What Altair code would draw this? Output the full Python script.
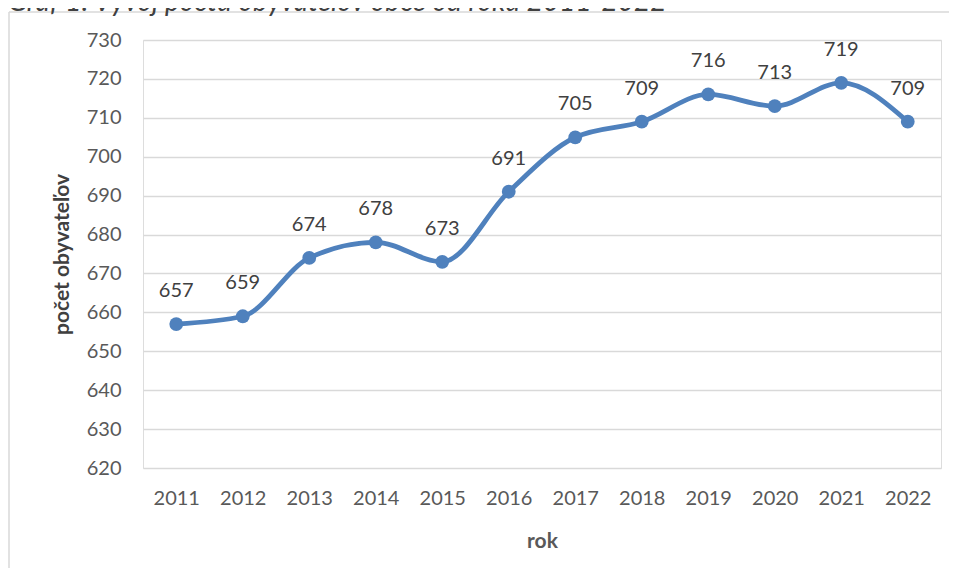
import altair as alt
import pandas as pd

years = ["2011", "2012", "2013", "2014", "2015", "2016", "2017", "2018", "2019", "2020", "2021", "2022"]
population = [657, 659, 674, 678, 673, 691, 705, 709, 716, 713, 719, 709]
y_ticks = [620, 630, 640, 650, 660, 670, 680, 690, 700, 710, 720, 730]
title_text = "Graf 1: Vývoj počtu obyvateľov obce od roku 2011-2022"

df = pd.DataFrame({"rok": years, "pocet": population})

FONT = "Lato"
BLUE = "#4F81BD"

x_enc = alt.X("rok:O", sort=years,
              scale=alt.Scale(padding=0.5),
              axis=alt.Axis(title="rok", labelAngle=0, labelFont=FONT, labelFontSize=20,
                            labelColor="#595959", labelPadding=20, ticks=False, domain=False,
                            titleFont=FONT, titleFontSize=21, titleFontWeight="bold",
                            titleColor="#595959", titlePadding=22, grid=False))
y_enc = alt.Y("pocet:Q",
              scale=alt.Scale(domain=[620, 730], nice=False, zero=False),
              axis=alt.Axis(title="počet obyvateľov", values=y_ticks, labelFont=FONT,
                            labelFontSize=20, labelColor="#595959", labelPadding=22,
                            ticks=False, domain=False, grid=True, gridColor="#d9d9d9",
                            gridWidth=1.5, titleFont=FONT, titleFontSize=21,
                            titleFontWeight="bold", titleColor="#404040", titlePadding=14))

base = alt.Chart(df)

line = base.mark_line(color=BLUE, strokeWidth=4.8, interpolate="monotone").encode(x=x_enc, y=y_enc)
points = base.mark_point(filled=True, color=BLUE, size=190, opacity=1).encode(x=x_enc, y=y_enc)
labels = base.mark_text(font=FONT, fontSize=20, color="#404040", baseline="middle", dy=-33).encode(
    x=x_enc, y=y_enc, text="pocet:Q")

frame_df = pd.DataFrame({"t": [title_text]})
frame_top = alt.Chart(frame_df).mark_rule(color="#d9d9d9", strokeWidth=1.5, clip=False).encode(
    x=alt.value(-134), x2=alt.value(812), y=alt.value(-28))
frame_left = alt.Chart(frame_df).mark_rule(color="#d9d9d9", strokeWidth=1.5, clip=False).encode(
    x=alt.value(-134), y=alt.value(-28), y2=alt.value(538))
title = alt.Chart(frame_df).mark_text(font=FONT, fontSize=28, fontStyle="italic", color="#404040",
                                      align="left", baseline="alphabetic").encode(
    x=alt.value(-135), y=alt.value(-29), text="t:N")

chart = alt.layer(frame_top, frame_left, line, points, labels, title).properties(
    width=798, height=428,
    autosize=alt.AutoSizeParams(type="none"),
    padding={"left": 135, "top": 32, "right": 8, "bottom": 100},
).configure_view(stroke=None).configure(background="white")

chart.save("out.html", embed_options={"renderer": "svg", "actions": False})
